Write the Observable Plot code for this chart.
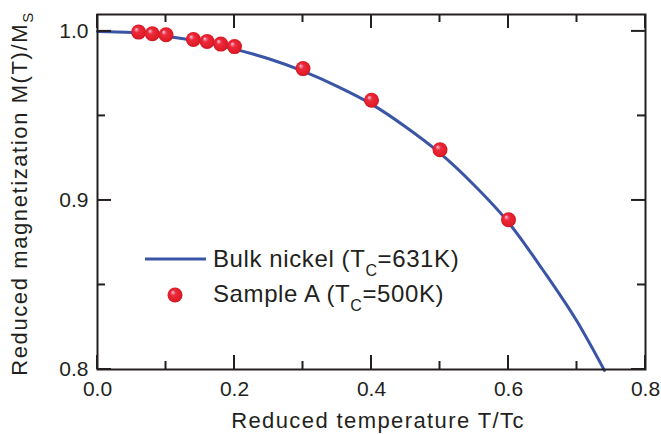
<!DOCTYPE html>
<html>
<head>
<meta charset="utf-8">
<script src="https://cdn.jsdelivr.net/npm/d3@7"></script>
<script src="https://cdn.jsdelivr.net/npm/@observablehq/plot@0.6"></script>
<style>
  html, body { margin: 0; padding: 0; background: #ffffff; }
  #chart svg { display: block; }
  #gradients { position: absolute; width: 0; height: 0; }
</style>
</head>
<body>
<svg id="gradients" width="0" height="0" aria-hidden="true">
  <defs>
    <radialGradient id="ballGrad" cx="0.5" cy="0.5" r="0.55" fx="0.33" fy="0.3">
      <stop offset="0" stop-color="#f4d4e6"/>
      <stop offset="0.12" stop-color="#f08aa6"/>
      <stop offset="0.32" stop-color="#ec2b3b"/>
      <stop offset="0.75" stop-color="#e31d2a"/>
      <stop offset="1" stop-color="#c3121d"/>
    </radialGradient>
  </defs>
</svg>
<div id="chart"></div>
<script>
// Bulk nickel curve (reduced temperature vs reduced magnetization)
const bulkT = [0, 0.05, 0.1, 0.15, 0.2, 0.25, 0.3, 0.35, 0.4, 0.45, 0.5, 0.55, 0.6, 0.65, 0.7, 0.74];
const bulkM = [1.0, 0.9993, 0.9972, 0.994, 0.9895, 0.9838, 0.9765, 0.9675, 0.957, 0.9435, 0.928, 0.909, 0.887, 0.859, 0.8285, 0.7995];

// Sample A measurements
const sampleT = [0.06, 0.08, 0.10, 0.14, 0.16, 0.18, 0.20, 0.30, 0.40, 0.50, 0.60];
const sampleM = [0.9996, 0.9986, 0.998, 0.9952, 0.994, 0.9925, 0.991, 0.978, 0.9593, 0.930, 0.8886];

// Ticks
const xMajor = [0, 0.2, 0.4, 0.6, 0.8];
const xMinor = [0.1, 0.3, 0.5, 0.7];
const xTickLabels = ["0.0", "0.2", "0.4", "0.6", "0.8"];
const yMajor = [0.8, 0.9, 1.0];
const yMinor = [0.85, 0.95];
const yTickLabels = ["0.8", "0.9", "1.0"];

const xTitle = "Reduced temperature T/Tc";
const yTitleMain = "Reduced magnetization M(T)/M";
const yTitleSub = "S";
const legendLabels = [
  {pre: "Bulk nickel (T", sub: "C", post: "=631K)"},
  {pre: "Sample A (T", sub: "C", post: "=500K)"}
];

const lineColor = "#3a55a5";
const ink = "#231f20";

const bulk = bulkT.map((t, i) => ({t, m: bulkM[i]}));
const sample = sampleT.map((t, i) => ({t, m: sampleM[i]}));

const W = 661, H = 434;
const mL = 97, mR = 16, mT = 14, mB = 65;
const majorLen = 14, minorLen = 8;

const chart = Plot.plot({
  width: W,
  height: H,
  marginLeft: mL,
  marginRight: mR,
  marginTop: mT,
  marginBottom: mB,
  style: {fontFamily: "'Liberation Sans', Arial, sans-serif", fontSize: "21px", color: ink, background: "#ffffff"},
  x: {domain: [0, 0.8]},
  y: {domain: [0.8, 1.01]},
  marks: [
    Plot.line(bulk, {x: "t", y: "m", stroke: lineColor, strokeWidth: 3, curve: "monotone-x"}),
    Plot.dot(sample, {x: "t", y: "m", r: 7.5, fill: "url(#ballGrad)", stroke: "none"}),
    // tick labels
    Plot.axisX({ticks: xMajor, anchor: "bottom", tickSize: 0, tickPadding: 12, label: null,
      tickFormat: (d) => xTickLabels[xMajor.indexOf(d)], fontSize: 21}),
    Plot.axisY({ticks: yMajor, anchor: "left", tickSize: 0, tickPadding: 9, label: null,
      tickFormat: (d) => yTickLabels[yMajor.indexOf(d)], fontSize: 21}),
    Plot.frame({stroke: ink, strokeWidth: 2})
  ]
});

document.getElementById("chart").appendChild(chart);

const svg = d3.select(chart);
const font = "'Liberation Sans', Arial, sans-serif";
const sx = chart.scale("x"), sy = chart.scale("y");
const frameLeft = mL, frameRight = W - mR, frameTop = mT, frameBottom = H - mB;
const tickW = 2;

// inward tick marks on all four sides, as thin filled bars placed with the chart's own scales
const tg = svg.append("g").attr("class", "inward-ticks");
function addXTicks(values, len) {
  values.forEach((v) => {
    const px = sx.apply(v);
    tg.append("rect").attr("x", px - tickW / 2).attr("y", frameBottom - len)
      .attr("width", tickW).attr("height", len).attr("fill", ink);
    tg.append("rect").attr("x", px - tickW / 2).attr("y", frameTop)
      .attr("width", tickW).attr("height", len).attr("fill", ink);
  });
}
function addYTicks(values, len) {
  values.forEach((v) => {
    const py = sy.apply(v);
    tg.append("rect").attr("x", frameLeft).attr("y", py - tickW / 2)
      .attr("width", len).attr("height", tickW).attr("fill", ink);
    tg.append("rect").attr("x", frameRight - len).attr("y", py - tickW / 2)
      .attr("width", len).attr("height", tickW).attr("fill", ink);
  });
}
addXTicks(xMajor, majorLen);
addXTicks(xMinor, minorLen);
addYTicks(yMajor, majorLen);
addYTicks(yMinor, minorLen);

// x axis title
svg.append("text")
  .attr("x", 378).attr("y", 428)
  .attr("text-anchor", "middle")
  .attr("font-family", font).attr("font-size", 22)
  .attr("letter-spacing", 1.4)
  .attr("fill", ink)
  .text(xTitle);

// y axis title
const yt = svg.append("text")
  .attr("transform", `translate(27,${(frameTop + frameBottom) / 2 + 2}) rotate(-90)`)
  .attr("text-anchor", "middle")
  .attr("font-family", font).attr("font-size", 22)
  .attr("letter-spacing", 1.6)
  .attr("fill", ink);
yt.append("tspan").text(yTitleMain);
yt.append("tspan").attr("font-size", 15).attr("dy", 6).text(yTitleSub);

// legend
const lg = svg.append("g").attr("font-family", font).attr("fill", ink).attr("text-anchor", "start");
lg.append("line").attr("x1", 145).attr("x2", 206).attr("y1", 259).attr("y2", 259)
  .attr("stroke", lineColor).attr("stroke-width", 3);
lg.append("circle").attr("cx", 175).attr("cy", 295).attr("r", 7.5).attr("fill", "url(#ballGrad)");
legendLabels.forEach((L, i) => {
  const t = lg.append("text").attr("x", 213).attr("y", 267 + i * 35)
    .attr("text-anchor", "start")
    .attr("font-size", 24).attr("letter-spacing", 0.6);
  t.append("tspan").text(L.pre);
  t.append("tspan").attr("font-size", 16).attr("dy", 9).text(L.sub);
  t.append("tspan").attr("dy", -9).text(L.post);
});
</script>
</body>
</html>
